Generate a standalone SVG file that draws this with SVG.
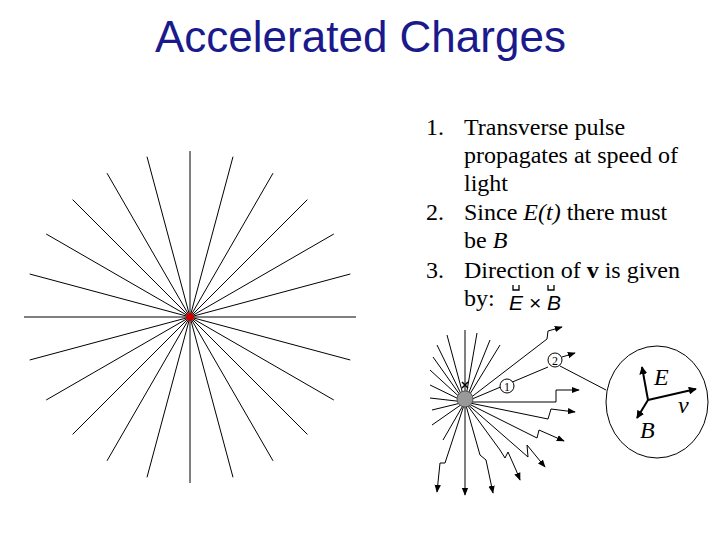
<svg xmlns="http://www.w3.org/2000/svg" width="720" height="540" viewBox="0 0 720 540">
<style>
.t{font-family:"Liberation Serif",serif;font-size:24px;fill:#000}
.r{stroke:#000;stroke-width:1;fill:none}
.k{stroke:#000;stroke-width:1;fill:none;marker-end:url(#a)}
.v{stroke:#000;stroke-width:2;fill:none;marker-end:url(#b)}
.l{font-family:"Liberation Serif",serif;font-style:italic;font-size:24px}
</style>
<defs>
<marker id="a" viewBox="0 0 10 10" refX="9" refY="5" markerWidth="8" markerHeight="8" markerUnits="userSpaceOnUse" orient="auto"><path d="M0,1L10,5L0,9z"/></marker>
<marker id="b" viewBox="0 0 10 10" refX="9" refY="5" markerWidth="4" markerHeight="4" orient="auto"><path d="M0,0L10,5L0,10z"/></marker>
</defs>
<rect width="720" height="540" fill="#fff"/>
<text x="155" y="52" font-family="Liberation Sans,sans-serif" font-size="44" fill="#1a1a8c">Accelerated Charges</text>
<g id="star" class="r">
<path d="M24,317H356M190,151V483M350.3,274L29.7,360M333.8,234L46.2,400M307.4,199.6L72.6,434.4M273,173.2L107,460.8M233,156.7L147,477.3M147,156.7L233,477.3M107,173.2L273,460.8M72.6,199.6L307.4,434.4M46.2,234L333.8,400M29.7,274L350.3,360"/>
<circle cx="190" cy="317" r="4" fill="#d00000" stroke="none"/>
</g>
<g id="list" class="t">
<text x="426" y="135">1.</text><text x="464" y="135">Transverse pulse</text>
<text x="464" y="163">propagates at speed of</text>
<text x="464" y="191">light</text>
<text x="426" y="220">2.</text><text x="464" y="220">Since <tspan font-style="italic">E(t)</tspan>  there must</text>
<text x="464" y="248">be <tspan font-style="italic">B</tspan></text>
<text x="426" y="278">3.</text><text x="464" y="278">Direction of <tspan font-weight="bold">v</tspan> is given</text>
<text x="464" y="306">by:</text>
<text x="509" y="310" font-family="Liberation Sans,sans-serif" font-style="italic" font-size="21">E × B</text>
<path d="M513,285v5h6v-5M548,285v5h6v-5" stroke="#000" stroke-width="1.3" fill="none"/>
</g>
<g id="rays">
<path class="r" d="M465,402V330M465,402L447,335M465,402L437,345M465,402L433,357M465,402L430,370M465,402L430,385M465,402L430,398M465,402L432,410M465,402L432,425M465,402L443,440M465,402L477,333M465,402L490,340M465,402L500,345"/>
<path class="k" d="M465,402L547,339L548,331L562,327"/>
<path class="r" d="M465,402L548,367"/>
<path class="k" d="M562,357L575,353"/>
<path class="k" d="M465,402H556V390H579"/>
<path class="k" d="M465,402L548,419L551,409L575,412"/>
<path class="k" d="M465,402L537,438L539,430L564,441"/>
<path class="k" d="M465,402L528,457L527,445L545,467"/>
<path class="k" d="M465,402L500,450L505,458L508,452L516,470L520,480"/>
<path class="k" d="M465,402L480,455L486,460L493,493"/>
<path class="k" d="M465,402V495"/>
<path class="k" d="M465,402L445,463L440,463L437,492"/>
<circle cx="465" cy="399" r="8" fill="#999" stroke="#555"/>
<path d="M462,382l6,6M468,382l-6,6" stroke="#000" stroke-width="1.5"/>
<circle cx="507" cy="386" r="7" fill="#fff" stroke="#000"/>
<text x="507" y="391" font-family="Liberation Serif,serif" font-size="12" text-anchor="middle">1</text>
<circle cx="555" cy="360" r="7" fill="#fff" stroke="#000"/>
<text x="555" y="365" font-family="Liberation Serif,serif" font-size="12" text-anchor="middle">2</text>
<path class="r" d="M560,366L606,390"/>
</g>
<g id="zoom">
<ellipse cx="657" cy="402" rx="51" ry="56" fill="#fff" stroke="#000"/>
<path class="v" d="M648,400L642,367"/>
<path class="v" d="M648,400L696,389"/>
<path class="v" d="M648,400L637,418"/>
<text class="l" x="654" y="385">E</text>
<text class="l" x="678" y="413">v</text>
<text class="l" x="640" y="438">B</text>
</g>
</svg>
